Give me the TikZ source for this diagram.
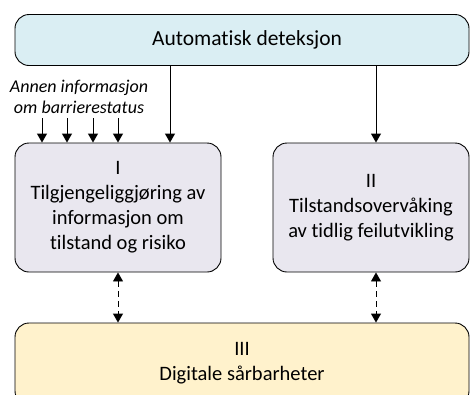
\documentclass[tikz,border=0pt]{standalone}
\usepackage{fontspec}
\setmainfont[Ligatures=NoCommon]{Carlito}
\usetikzlibrary{arrows.meta}
\definecolor{topblue}{HTML}{DAEEF3}
\definecolor{lav}{HTML}{E9E7EF}
\definecolor{ylw}{HTML}{FFF2CC}
\tikzset{
  box/.style={draw=black, line width=0.9pt, rounded corners=14pt, align=center, font=\fontsize{20.5}{25}\selectfont, inner sep=0pt},
  arr/.style={-{Triangle[length=9pt,width=10pt]}, line width=0.9pt},
  darr/.style={{Triangle[length=9pt,width=10pt]}-{Triangle[length=9pt,width=10pt]}, line width=0.9pt, dash pattern=on 6pt off 4pt}
}
\begin{document}
\begin{tikzpicture}[x=1pt,y=-1pt]
\useasboundingbox (0,0) rectangle (470,394);
\begin{scope}
\clip (0,0) rectangle (470,394);
\node[box, fill=topblue, minimum width=454pt, minimum height=51pt, font=\fontsize{21.5}{25}\selectfont] (top) at (242,40) {\hspace*{10pt}Automatisk deteksjon};
\node[box, fill=lav, minimum width=206pt, minimum height=129pt] (b1) at (118,207.5) {I\\Tilgjengeliggjøring av\\informasjon om\\tilstand og risiko};
\node[box, fill=lav, minimum width=196pt, minimum height=129pt] (b2) at (371,207.5) {II\\Tilstandsovervåking\\av tidlig feilutvikling};
\node[box, fill=ylw, minimum width=454pt, minimum height=82pt] (b3) at (242,364) {};
\node[align=center, font=\fontsize{20.5}{25}\selectfont] (b3t) at (242,363) {III\\Digitale sårbarheter};
\end{scope}
\node[align=center, font=\itshape\fontsize{18}{21}\selectfont, inner sep=0pt] (info) at (79,97) {Annen informasjon\\om barrierestatus};
\foreach \x [count=\i] in {42,67,93,118} {
  \coordinate (s\i) at (\x,118);
  \draw[arr] (s\i) -- (s\i |- b1.north);
}
\draw[arr] (top.south -| 170,0) -- (b1.north -| 170,0);
\draw[arr] (top.south -| 376,0) -- (b2.north -| 376,0);
\draw[darr] (b1.south -| 118,0) -- (b3.north -| 118,0);
\draw[darr] (b2.south -| 376,0) -- (b3.north -| 376,0);
\end{tikzpicture}
\end{document}
